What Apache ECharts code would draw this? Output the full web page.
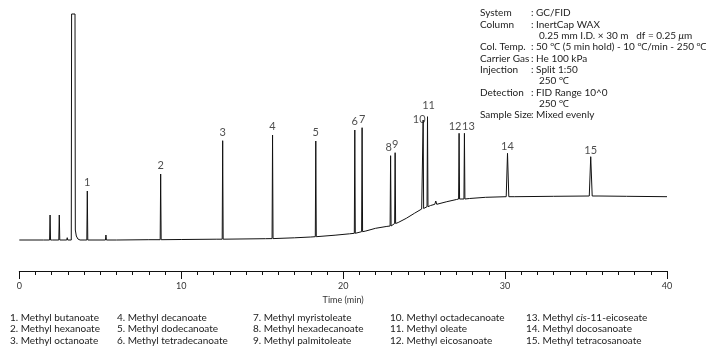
<!DOCTYPE html>
<html>
<head>
<meta charset="utf-8">
<script src="https://cdn.jsdelivr.net/npm/echarts@6/dist/echarts.min.js"></script>
<style>
  html, body { margin: 0; padding: 0; background: #fff; }
  #chart { width: 709px; height: 352px; }
</style>
</head>
<body>
<div id="chart"></div>
<script>
// baseline of the trace, [time (min), signal]
const baseline = [
  [0, 0], [1.5, 0], [2.7, 0], [4.0, 0], [6, 0], [8, 0.3], [10, 0.5], [12.2, 0.8],
  [15.2, 1.3], [17, 2.2], [18.0, 3.0], [19.5, 4.8], [20.4, 6.2], [21.4, 9],
  [22.0, 11.7], [22.7, 13.6], [23.4, 17.5], [23.9, 21.7], [24.4, 26.7], [24.85, 31],
  [25.05, 32.5], [25.4, 34.5], [26.4, 38.3], [27.0, 40.5], [27.8, 41.5], [28.8, 42.7],
  [30.6, 43.3], [33, 43.7], [35.8, 44], [37.5, 43.7], [40, 43.3]
];

// solvent peak (top is cut off)
const solvent = [
  [3.21, 0], [3.23, 226], [3.44, 226], [3.46, 10], [3.52, 4], [3.62, 1], [3.75, 0]
];

// peaks: retention time, apex, foot level, half width
const peakTimes = [1.90, 2.00, 2.47, 2.96, 4.20, 5.35, 8.73, 12.56, 15.64, 18.31,
  20.72, 21.17, 22.93, 23.21, 24.94, 25.21, 25.72, 27.16, 27.49, 30.15, 35.29];
const peakTops = [25, 2, 25, 2.3, 49, 5, 66, 99.3, 105, 99,
  110, 112.3, 84.3, 87.3, 120, 123.3, 39, 106.7, 106.7, 86.7, 83.3];
const peakFeet = [0, 0, 0, 0, 0, 0, 0.3, 0.8, 1.4, 3.3,
  6.7, 8.3, 14, 16.5, 31.5, 33.3, 35.7, 41, 41, 43.3, 44];
const peakWidths = [0.03, 0.06, 0.03, 0.03, 0.03, 0.03, 0.03, 0.03, 0.03, 0.03,
  0.03, 0.03, 0.03, 0.03, 0.03, 0.03, 0.06, 0.03, 0.03, 0.08, 0.09];
const peakLabels = ['', '', '', '', '1', '', '2', '3', '4', '5',
  '6', '7', '8', '9', '10', '11', '', '12', '13', '14', '15'];

const xTicks = [0, 10, 20, 30, 40];

const compounds = [
  '1. Methyl butanoate', '2. Methyl hexanoate', '3. Methyl octanoate',
  '4. Methyl decanoate', '5. Methyl dodecanoate', '6. Methyl tetradecanoate',
  '7. Methyl myristoleate', '8. Methyl hexadecanoate', '9. Methyl palmitoleate',
  '10. Methyl octadecanoate', '11. Methyl oleate', '12. Methyl eicosanoate',
  '13. Methyl {i|cis}-11-eicoseate', '14. Methyl docosanoate', '15. Methyl tetracosanoate'
];

const condLabels = ['System', 'Column', '', 'Col. Temp.', 'Carrier Gas', 'Injection', '', 'Detection', '', 'Sample Size'];
const condValues = ['GC/FID', 'InertCap WAX', '0.25 mm I.D. × 30 m   df = 0.25 {i|μ}m',
  '50 ℃ (5 min hold) - 10 ℃/min - 250 ℃', 'He 100 kPa', 'Split 1:50', '250 ℃',
  'FID Range 10^0', '250 ℃', 'Mixed evenly'];

// build the trace
let trace = [];
peakTimes.forEach((t, i) => {
  trace.push([t - peakWidths[i], peakFeet[i]], [t, peakTops[i]], [t + peakWidths[i], peakFeet[i]]);
});
trace = trace.concat(solvent);
baseline.forEach(p => {
  const inside = peakTimes.some((t, i) => Math.abs(p[0] - t) <= peakWidths[i]) ||
    (p[0] >= solvent[0][0] && p[0] <= solvent[solvent.length - 1][0]);
  if (!inside) trace.push(p);
});
trace.sort((a, b) => a[0] - b[0]);

// label shifts for crowded peaks
const labelNudge = { '8': [-2, 0], '10': [-4, 8], '11': [1, -3], '12': [-4, 2], '13': [4, 2],
  '14': [0, 2], '15': [0, 2] };

const peakPoints = [];
peakTimes.forEach((t, i) => {
  const n = peakLabels[i];
  if (!n) return;
  peakPoints.push({
    value: [t, peakTops[i]],
    name: n,
    label: { offset: labelNudge[n] || [0, 0] }
  });
});

const FONT = 'Lato, "Noto Sans", sans-serif';
const italic = { i: { font: 'italic 10px ' + FONT, fill: '#222' } };
const graphics = [];
condLabels.forEach((lab, i) => {
  const y = 13 + i * 11.35;
  if (lab) {
    graphics.push({ type: 'text', style: { text: lab, x: 480, y: y, fill: '#222',
      font: '10px ' + FONT, verticalAlign: 'middle' } });
    graphics.push({ type: 'text', style: { text: ': ' + condValues[i], x: 531, y: y, fill: '#222',
      font: '10px ' + FONT, verticalAlign: 'middle', rich: italic } });
  } else {
    graphics.push({ type: 'text', style: { text: condValues[i], x: 539, y: y, fill: '#222',
      font: '10px ' + FONT, verticalAlign: 'middle', rich: italic } });
  }
});
const colX = [10, 117, 253, 390, 526];
compounds.forEach((c, i) => {
  const col = Math.floor(i / 3), row = i % 3;
  graphics.push({ type: 'text', style: { text: c, x: colX[col], y: 317.5 + row * 11.5, fill: '#222',
    font: '10px ' + FONT, verticalAlign: 'middle', rich: italic } });
});

const chart = echarts.init(document.getElementById('chart'));
chart.setOption({
  animation: false,
  grid: { left: 19.3, right: 42, top: 14, bottom: 81 },
  xAxis: {
    type: 'value', min: xTicks[0], max: xTicks[xTicks.length - 1], interval: 10,
    name: 'Time (min)', nameLocation: 'middle', nameGap: 25,
    nameTextStyle: { fontSize: 9, color: '#333', fontFamily: FONT },
    axisLine: { onZero: false, lineStyle: { color: '#111', width: 1 } },
    axisTick: { length: 8, lineStyle: { color: '#111' } },
    minorTick: { show: true, splitNumber: 10, length: 4, lineStyle: { color: '#111' } },
    splitLine: { show: false },
    axisLabel: { fontSize: 9, color: '#333', margin: 11, fontFamily: FONT }
  },
  yAxis: { type: 'value', min: -31, max: 226, show: false },
  series: [
    {
      type: 'line', data: trace, showSymbol: false, clip: false, sampling: 'none',
      lineStyle: { color: '#111', width: 1 }, silent: true
    },
    {
      type: 'scatter', data: peakPoints, symbolSize: 0, silent: true,
      label: { show: true, position: 'top', distance: 3, formatter: p => p.name,
        fontSize: 11, color: '#222', fontFamily: FONT }
    }
  ],
  graphic: graphics
});
</script>
</body>
</html>
